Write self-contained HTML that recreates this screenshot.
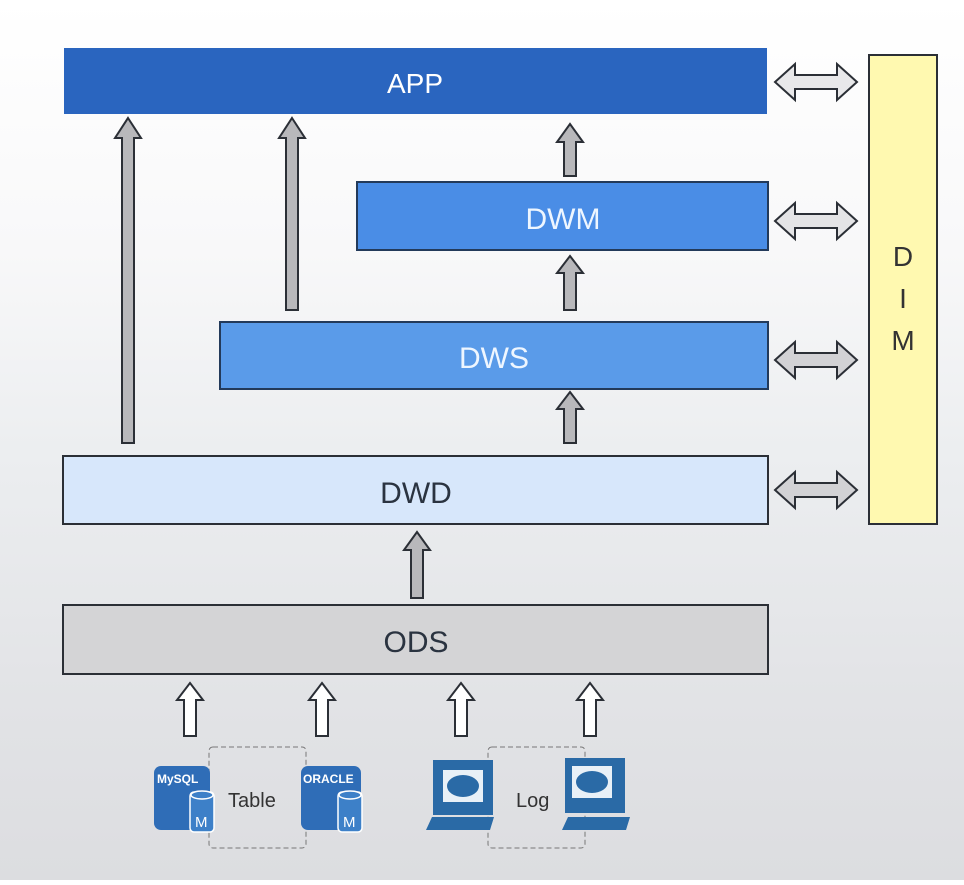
<!DOCTYPE html>
<html><head><meta charset="utf-8"><style>
html,body{margin:0;padding:0;}
body{width:964px;height:880px;overflow:hidden;background:linear-gradient(180deg,#ffffff 0px,#f8f8f9 250px,#eceef0 450px,#e2e3e6 700px,#dcdde0 880px);font-family:"Liberation Sans","DejaVu Sans",sans-serif;}
</style></head><body>
<svg width="964" height="880" viewBox="0 0 964 880" xmlns="http://www.w3.org/2000/svg" font-family="Liberation Sans, DejaVu Sans, sans-serif">
<rect x="64" y="48" width="703" height="66" fill="#2a65bf"/>
<text x="415" y="93" font-size="28" fill="#fff" text-anchor="middle">APP</text>
<rect x="357" y="182" width="411" height="68" fill="#4a8de6" stroke="#233a5a" stroke-width="2"/>
<text x="563" y="229" font-size="30" fill="#eef6ff" text-anchor="middle">DWM</text>
<rect x="220" y="322" width="548" height="67" fill="#5a9be9" stroke="#233a5a" stroke-width="2"/>
<text x="494" y="368" font-size="30" fill="#eef6ff" text-anchor="middle">DWS</text>
<rect x="63" y="456" width="705" height="68" fill="#d7e7fb" stroke="#2b2f36" stroke-width="2"/>
<text x="416" y="503" font-size="30" fill="#2a3340" text-anchor="middle">DWD</text>
<rect x="63" y="605" width="705" height="69" fill="#d4d4d6" stroke="#2b2f36" stroke-width="2"/>
<text x="416" y="652" font-size="30" fill="#2a3340" text-anchor="middle">ODS</text>
<rect x="869" y="55" width="68" height="469" fill="#fff9b0" stroke="#2b2f36" stroke-width="2"/>
<text x="903" y="266" font-size="28" fill="#333" text-anchor="middle">D</text>
<text x="903" y="308" font-size="28" fill="#333" text-anchor="middle">I</text>
<text x="903" y="350" font-size="28" fill="#333" text-anchor="middle">M</text>
<g fill="#b8b8bb" stroke="#2b2f36" stroke-width="2" stroke-linejoin="miter">
<path d="M128,118 L141,138 L134,138 L134,443 L122,443 L122,138 L115,138 Z"/>
<path d="M292,118 L305,138 L298,138 L298,310 L286,310 L286,138 L279,138 Z"/>
<path d="M570,124 L583,142 L576,142 L576,176 L564,176 L564,142 L557,142 Z"/>
<path d="M570,256 L583,273 L576,273 L576,310 L564,310 L564,273 L557,273 Z"/>
<path d="M570,392 L583,409 L576,409 L576,443 L564,443 L564,409 L557,409 Z"/>
<path d="M417,532 L430,550 L423,550 L423,598 L411,598 L411,550 L404,550 Z"/>
</g>
<g fill="#ffffff" stroke="#2b2f36" stroke-width="2">
<path d="M190,683 L203,700 L196,700 L196,736 L184,736 L184,700 L177,700 Z"/>
<path d="M322,683 L335,700 L328,700 L328,736 L316,736 L316,700 L309,700 Z"/>
<path d="M461,683 L474,700 L467,700 L467,736 L455,736 L455,700 L448,700 Z"/>
<path d="M590,683 L603,700 L596,700 L596,736 L584,736 L584,700 L577,700 Z"/>
</g>
<g stroke="#2b2f36" stroke-width="2">
<path fill="#e8e8ea" d="M775,82 L795,64 L795,75 L837,75 L837,64 L857,82 L837,100 L837,89 L795,89 L795,100 Z"/>
<path fill="#e4e4e6" d="M775,221 L795,203 L795,214 L837,214 L837,203 L857,221 L837,239 L837,228 L795,228 L795,239 Z"/>
<path fill="#d2d2d5" d="M775,360 L795,342 L795,353 L837,353 L837,342 L857,360 L837,378 L837,367 L795,367 L795,378 Z"/>
<path fill="#d2d2d5" d="M775,490 L795,472 L795,483 L837,483 L837,472 L857,490 L837,508 L837,497 L795,497 L795,508 Z"/>
</g>
<g fill="none" stroke="#777" stroke-width="1" stroke-dasharray="5,3">
<rect x="209" y="747" width="97" height="101" rx="4"/>
<rect x="488" y="747" width="97" height="101" rx="4"/>
</g>
<rect x="154" y="766" width="56" height="64" rx="7" fill="#2f6db7"/>
<text x="157" y="783" font-size="12" font-weight="bold" fill="#fff">MySQL</text>
<rect x="190" y="792" width="24" height="40" rx="4" fill="#3d80c8" stroke="#fff" stroke-width="1.5"/>
<ellipse cx="202" cy="795" rx="11" ry="4" fill="#3d80c8" stroke="#fff" stroke-width="1.5"/>
<text x="195" y="827" font-size="15" fill="#fff">M</text>
<rect x="301" y="766" width="60" height="64" rx="7" fill="#2f6db7"/>
<text x="303" y="783" font-size="12" font-weight="bold" fill="#fff">ORACLE</text>
<rect x="338" y="792" width="24" height="40" rx="4" fill="#3d80c8" stroke="#fff" stroke-width="1.5"/>
<ellipse cx="350" cy="795" rx="11" ry="4" fill="#3d80c8" stroke="#fff" stroke-width="1.5"/>
<text x="343" y="827" font-size="15" fill="#fff">M</text>
<text x="228" y="807" font-size="20" fill="#333">Table</text>
<g>
<rect x="433" y="760" width="60" height="55" fill="#2a6aa6"/>
<rect x="443" y="770" width="40" height="32" fill="#e8f0f7"/>
<ellipse cx="463" cy="786" rx="16" ry="11" fill="#2a6aa6"/>
<path d="M432,817 L494,817 L490,830 L426,830 Z" fill="#2a6aa6"/>
<rect x="565" y="758" width="60" height="55" fill="#2a6aa6"/>
<rect x="572" y="766" width="40" height="32" fill="#e8f0f7"/>
<ellipse cx="592" cy="782" rx="16" ry="11" fill="#2a6aa6"/>
<path d="M568,817 L630,817 L626,830 L562,830 Z" fill="#2a6aa6"/>
</g>
<text x="516" y="807" font-size="20" fill="#333">Log</text>
</svg>
</body></html>
